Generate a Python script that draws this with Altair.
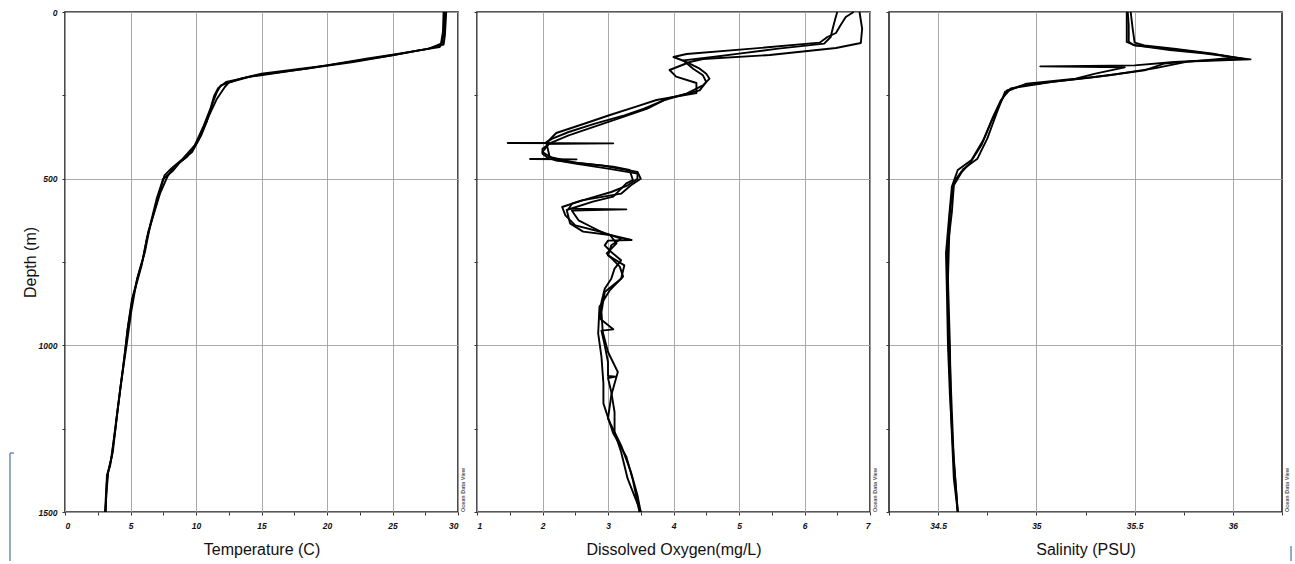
import altair as alt
import pandas as pd

# ---------------- data (depth m, value) ----------------
temp_a = [(0, 29.0), (50, 28.95), (92, 28.8), (105, 28.6), (115, 27.0), (130, 25.0), (160, 20.0),
          (185, 15.0), (200, 13.4), (220, 11.9), (240, 11.6), (270, 11.3), (330, 10.8), (390, 10.1),
          (435, 9.3), (465, 8.3), (495, 7.8), (545, 7.25), (590, 6.9), (660, 6.35), (740, 5.95),
          (775, 5.7), (865, 5.1), (945, 4.8), (1005, 4.63), (1095, 4.33), (1215, 3.94), (1335, 3.56),
          (1385, 3.26), (1415, 3.18), (1500, 3.05)]
temp_b = [(0, 28.9), (60, 28.85), (95, 28.7), (110, 27.8), (125, 25.5), (140, 23.0), (170, 18.5),
          (190, 14.6), (210, 12.3), (228, 11.7), (250, 11.4), (290, 11.1), (340, 10.6), (400, 9.9),
          (440, 9.0), (470, 8.1), (490, 7.6), (530, 7.3), (600, 6.8), (680, 6.25), (760, 5.85),
          (860, 5.15), (960, 4.75), (1080, 4.4), (1200, 4.0), (1320, 3.65), (1380, 3.3), (1450, 3.15),
          (1500, 3.1)]
temp_c = [(0, 29.1), (70, 29.0), (98, 28.9), (112, 27.5), (135, 24.2), (150, 22.0), (175, 17.5),
          (195, 14.0), (212, 12.5), (225, 12.2), (260, 11.6), (310, 11.0), (370, 10.4), (420, 9.7),
          (450, 8.8), (478, 8.2), (500, 7.5), (560, 7.0), (640, 6.5), (720, 6.1), (800, 5.5),
          (900, 5.05), (1000, 4.7), (1120, 4.25), (1250, 3.85), (1360, 3.45), (1390, 3.2), (1500, 3.1)]

oxy_a = [(0, 6.84), (50, 6.88), (93, 6.86), (108, 6.48), (129, 5.47), (141, 4.45), (150, 4.25),
         (174, 3.94), (194, 4.04), (213, 4.35), (243, 4.35), (264, 3.74), (284, 3.43), (309, 3.03),
         (333, 2.67), (363, 2.21), (393, 2.06), (435, 2.11), (453, 2.52), (464, 3.08), (474, 3.33),
         (504, 3.38), (514, 3.28), (554, 3.08), (569, 2.77), (594, 2.37), (634, 2.42), (659, 2.62),
         (669, 3.03), (694, 3.13), (724, 2.98), (764, 3.18), (794, 3.23), (834, 3.03), (884, 2.87),
         (964, 2.85), (1034, 2.9), (1114, 2.93), (1174, 2.93), (1264, 3.08), (1334, 3.28),
         (1404, 3.38), (1500, 3.48)]
oxy_b = [(0, 6.5), (20, 6.47), (50, 6.43), (75, 6.4), (95, 6.3), (110, 5.6), (125, 5.0), (135, 4.6),
         (145, 4.15), (170, 4.3), (190, 4.45), (210, 4.5), (235, 4.4), (260, 3.9), (290, 3.6),
         (310, 3.3), (340, 2.85), (370, 2.4), (395, 2.1), (420, 2.0), (445, 2.2), (460, 2.9),
         (480, 3.45), (500, 3.5), (520, 3.35), (545, 3.2), (565, 2.6), (585, 2.3), (610, 2.35),
         (640, 2.5), (660, 2.9), (680, 3.2), (700, 3.05), (730, 3.0), (760, 3.25), (800, 3.2),
         (840, 2.95), (900, 2.9), (960, 2.92), (1020, 3.0), (1080, 3.15), (1150, 3.05), (1220, 3.0),
         (1300, 3.2), (1380, 3.35), (1450, 3.45), (1500, 3.5)]
oxy_c = [(0, 6.75), (15, 6.63), (40, 6.55), (63, 6.48), (75, 6.35), (92, 6.23), (110, 5.2),
         (126, 4.2), (135, 4.0), (150, 4.2), (160, 4.3), (170, 4.4), (185, 4.5), (200, 4.55),
         (220, 4.45), (245, 4.2), (265, 3.85), (290, 3.55), (310, 3.25), (335, 2.8), (360, 2.4),
         (380, 2.15), (392, 2.05), (393, 1.47), (394, 3.08), (396, 2.1), (410, 2.0), (425, 2.0),
         (440, 2.1), (441, 1.81), (442, 2.52), (443, 2.15), (455, 2.5), (470, 3.0), (485, 3.45),
         (500, 3.45), (520, 3.3), (540, 3.05), (560, 2.7), (575, 2.45), (590, 2.4), (592, 3.28),
         (596, 2.45), (625, 2.55), (645, 2.75), (665, 2.95), (684, 3.36), (686, 3.0), (700, 2.95),
         (720, 3.05), (745, 3.2), (770, 3.1), (800, 3.05), (830, 2.95), (870, 2.9), (920, 2.88),
         (952, 3.08), (956, 2.9), (1000, 2.95), (1050, 3.0), (1092, 3.0), (1094, 3.12), (1098, 3.0),
         (1140, 3.05), (1200, 3.1), (1260, 3.1), (1320, 3.2), (1400, 3.3), (1460, 3.42), (1500, 3.5)]

sal_a = [(0, 35.465), (40, 35.47), (89, 35.47), (99, 35.495), (114, 35.68), (124, 35.85), (142, 36.09),
         (149, 35.77), (169, 35.6), (189, 35.38), (209, 35.09), (229, 34.87), (264, 34.82),
         (314, 34.78), (384, 34.73), (444, 34.67), (474, 34.6), (524, 34.57), (614, 34.556),
         (724, 34.54), (850, 34.545), (1000, 34.55), (1150, 34.56), (1300, 34.575), (1420, 34.59),
         (1500, 34.6)]
sal_b = [(0, 35.48), (50, 35.49), (92, 35.5), (100, 35.55), (110, 35.7), (125, 35.9), (137, 36.0),
         (145, 35.85), (155, 35.65), (175, 35.55), (195, 35.3), (212, 35.05), (222, 34.92),
         (235, 34.85), (280, 34.81), (330, 34.77), (400, 34.72), (455, 34.66), (480, 34.62),
         (520, 34.58), (600, 34.57), (700, 34.55), (800, 34.55), (900, 34.55), (1050, 34.56),
         (1200, 34.57), (1350, 34.58), (1500, 34.6)]
sal_c = [(0, 35.46), (90, 35.46), (100, 35.5), (115, 35.75), (130, 35.95), (140, 36.05), (150, 35.7),
         (160, 35.5), (163, 35.02), (166, 35.45), (185, 35.3), (200, 35.2), (215, 34.95),
         (240, 34.84), (300, 34.8), (380, 34.75), (440, 34.7), (470, 34.63), (510, 34.58),
         (600, 34.56), (800, 34.55), (1000, 34.56), (1200, 34.565), (1400, 34.58), (1500, 34.6)]

temp_ticks = [0, 2.5, 5, 7.5, 10, 12.5, 15, 17.5, 20, 22.5, 25, 27.5, 30]
oxy_ticks = [1, 1.5, 2, 2.5, 3, 3.5, 4, 4.5, 5, 5.5, 6, 6.5, 7]
sal_ticks = [34.25, 34.5, 34.75, 35, 35.25, 35.5, 35.75, 36, 36.25]
depth_ticks = [0, 250, 500, 750, 1000, 1250, 1500]

FONT = "Liberation Sans"
W, H = 393, 500


def frame(casts, name):
    rows = []
    for cid, pts in casts.items():
        for d, v in pts:
            rows.append({"cast": cid, "depth": d, name: v})
    return pd.DataFrame(rows)


def x_axis(values, title, test):
    return alt.Axis(
        values=values, title=title, grid=True, gridColor="#a0a0a0", gridWidth=0.9,
        gridOpacity={"condition": {"test": test, "value": 1}, "value": 0},
        labelExpr=f"({test}) ? '' + datum.value : ''",
        labelFont=FONT, labelFontStyle="italic", labelFontWeight="bold", labelFontSize=8.5,
        labelColor="#111", labelPadding=6, tickSize=3, tickColor="#333", domain=False,
        titleFont=FONT, titleFontSize=16, titleFontWeight="normal", titleColor="#111",
        titlePadding=12,
    )


def y_axis(show):
    test = "datum.value % 500 === 0"
    common = dict(
        values=depth_ticks, grid=True, gridColor="#a0a0a0", gridWidth=0.9,
        gridOpacity={"condition": {"test": test, "value": 1}, "value": 0},
        tickSize=3, tickColor="#333", domain=False,
    )
    if show:
        return alt.Axis(
            title="Depth (m)", labelExpr=f"({test}) ? '' + datum.value : ''",
            labelFont=FONT, labelFontStyle="italic", labelFontWeight="bold", labelFontSize=8.5,
            labelColor="#111", labelPadding=5,
            titleFont=FONT, titleFontSize=16, titleFontWeight="normal", titleColor="#111",
            titlePadding=0, **common)
    return alt.Axis(title="", labels=False, **common)


odv_df = pd.DataFrame({"t": ["Ocean Data View"]})


def panel(df, field, domain, ticks, title, test, show_y):
    lines = alt.Chart(df).mark_line(color="black", strokeWidth=1.9, strokeJoin="round").encode(
        x=alt.X(f"{field}:Q", scale=alt.Scale(domain=domain, nice=False, zero=False),
                axis=x_axis(ticks, title, test)),
        y=alt.Y("depth:Q", scale=alt.Scale(domain=[0, 1500], reverse=True, nice=False),
                axis=y_axis(show_y)),
        detail="cast:N",
        order="depth:Q",
    )
    odv = alt.Chart(odv_df).mark_text(angle=270, fontSize=5.5, font=FONT, fontWeight="bold",
                                      color="#555").encode(
        text="t:N", x=alt.value(W + 5), y=alt.value(H - 22))
    return alt.layer(lines, odv).properties(width=W, height=H)


t_df = frame({"a": temp_a, "b": temp_b, "c": temp_c}, "temp")
o_df = frame({"a": oxy_a, "b": oxy_b, "c": oxy_c}, "oxy")
s_df = frame({"a": sal_a, "b": sal_b, "c": sal_c}, "sal")

p1 = panel(t_df, "temp", [0, 30], temp_ticks, "Temperature (C)", "datum.value % 5 === 0", True)
p2 = panel(o_df, "oxy", [1, 7], oxy_ticks, "Dissolved Oxygen(mg/L)", "datum.value % 1 === 0", False)
p3 = panel(s_df, "sal", [34.25, 36.25], sal_ticks, "Salinity (PSU)", "(datum.value * 2) % 1 === 0", False)

mark_df = pd.DataFrame({"k": [0]})
left_bar = alt.Chart(mark_df).mark_rule(color="#5b7bb0", strokeWidth=1.3).encode(
    x=alt.value(-55), y=alt.value(441), y2=alt.value(549))
left_nub = alt.Chart(mark_df).mark_rule(color="#5b7bb0", strokeWidth=1.3).encode(
    x=alt.value(-55), x2=alt.value(-51), y=alt.value(441))
right_bar = alt.Chart(mark_df).mark_rule(color="#5b7bb0", strokeWidth=1.3).encode(
    x=alt.value(402), y=alt.value(534), y2=alt.value(549))

p1 = alt.layer(p1, left_bar, left_nub)
p3 = alt.layer(p3, right_bar)

chart = alt.hconcat(p1, p2, p3, spacing=19, bounds="flush").properties(
    padding={"left": 8, "top": 7, "right": 0, "bottom": 0},
    background="white",
).configure_view(stroke="#222", strokeWidth=1.6)

chart.save("out.html", embed_options={"renderer": "svg", "actions": False})
